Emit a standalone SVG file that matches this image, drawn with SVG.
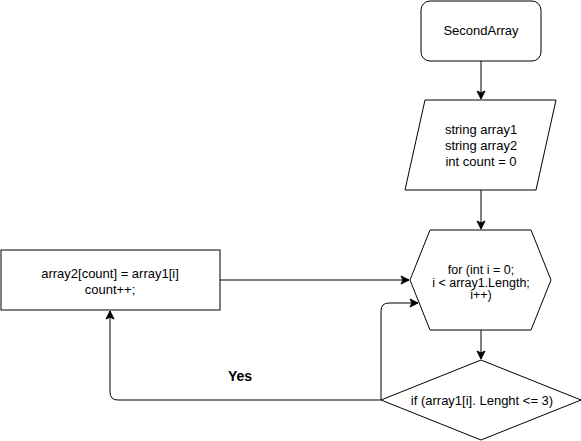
<svg xmlns="http://www.w3.org/2000/svg" width="581" height="441" viewBox="0 0 581 441">
<defs>
<marker id="arr" markerWidth="10" markerHeight="10" refX="9" refY="5" orient="auto" markerUnits="userSpaceOnUse">
<path d="M1,1 L9,5 L1,9 L3,5 Z" fill="#000" stroke="#000" stroke-width="1"/>
</marker>
<style>
.s{fill:#fff;stroke:#000;stroke-width:1}
.t{font-family:"Liberation Sans",Arial,sans-serif;font-size:13px;fill:#000;text-anchor:middle}
.h{font-size:12.5px}
.c{fill:none;stroke:#000;stroke-width:1}
</style>
</defs>
<rect width="581" height="441" fill="#fff"/>
<g id="connectors">
<path class="c" d="M481,61 L481,99" marker-end="url(#arr)"/>
<path class="c" d="M481,190 L481,229" marker-end="url(#arr)"/>
<path class="c" d="M481,330 L481,359" marker-end="url(#arr)"/>
<path class="c" d="M220,280 L409,280" marker-end="url(#arr)"/>
<path class="c" d="M381,400 L381,311 Q381,303 389,303 L418,303" marker-end="url(#arr)"/>
<path class="c" d="M381,400 L118,400 Q110,400 110,392 L110,311" marker-end="url(#arr)"/>
<text x="240" y="381" style="font-family:'Liberation Sans',Arial,sans-serif;font-size:14px;font-weight:bold;text-anchor:middle">Yes</text>
</g>
<g id="n1">
<rect class="s" x="421" y="1" width="120" height="60" rx="9" ry="9"/>
<text class="t" x="481" y="35">SecondArray</text>
</g>
<g id="n2">
<polygon class="s" points="425,100 556,100 536,190 405,190"/>
<text class="t" x="481" y="134">string array1</text>
<text class="t" x="481" y="150">string array2</text>
<text class="t" x="481" y="166">int count = 0</text>
</g>
<g id="n3">
<polygon class="s" points="430,230 531,230 551,280 531,330 430,330 410,280"/>
<text class="t h" x="481" y="274">for (int i = 0;</text>
<text class="t h" x="481" y="286.5">i &lt; array1.Length;</text>
<text class="t h" x="481" y="299">i++)</text>
</g>
<g id="n4">
<polygon class="s" points="481,360 581,400 481,440 381,400"/>
<text class="t" x="482" y="405">if (array1[i]. Lenght &lt;= 3)</text>
</g>
<g id="n5">
<rect class="s" x="1" y="250" width="219" height="60"/>
<text class="t" x="110" y="278">array2[count] = array1[i]</text>
<text class="t" x="110" y="294">count++;</text>
</g>
</svg>
